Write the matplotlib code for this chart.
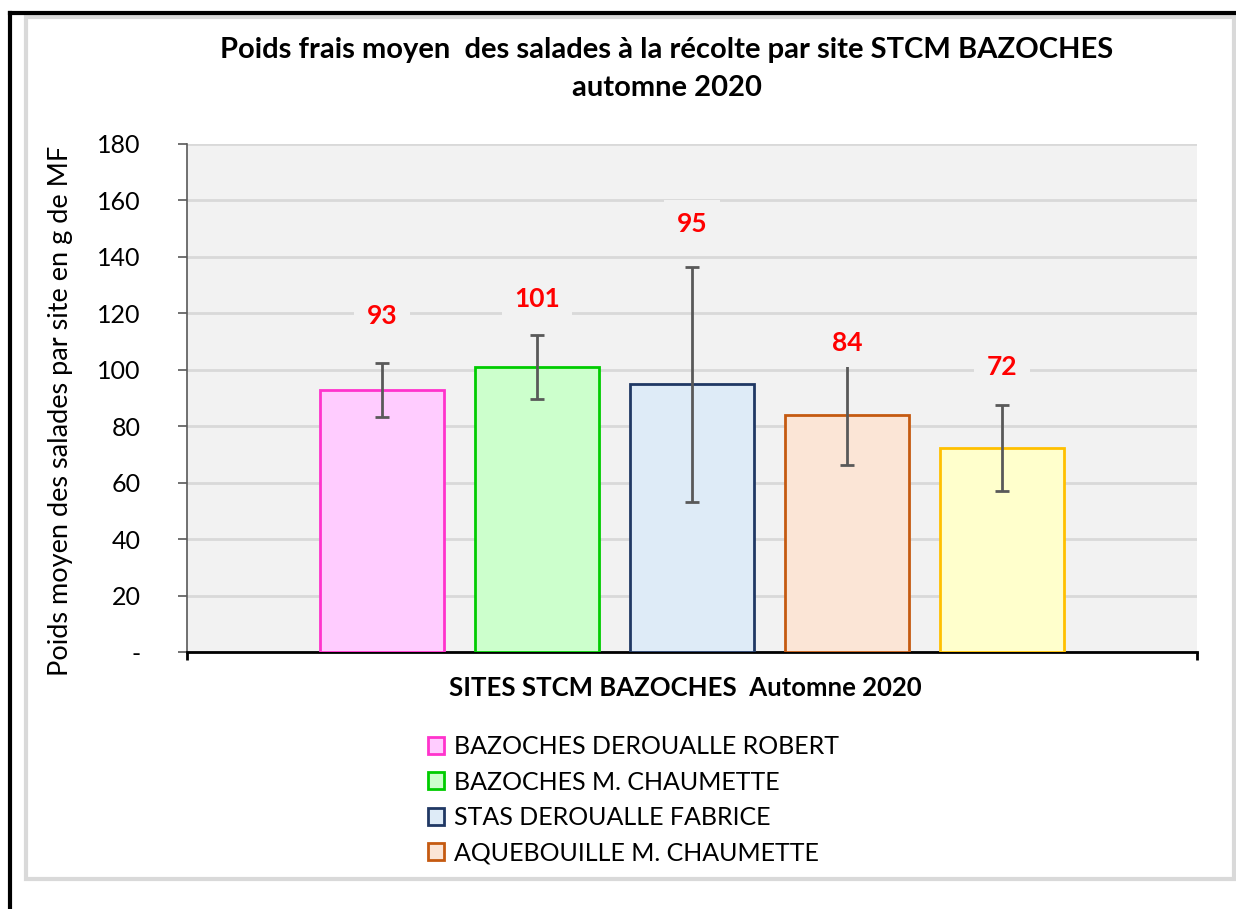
import matplotlib.pyplot as plt
from matplotlib.patches import Rectangle
from matplotlib.lines import Line2D

sites = ['BAZOCHES DEROUALLE ROBERT', 'BAZOCHES M. CHAUMETTE', 'STAS DEROUALLE FABRICE',
         'AQUEBOUILLE M. CHAUMETTE', 'SITE 5']
poids = [92.8, 101.0, 94.8, 84.0, 72.3]
ecart = [9.7, 11.5, 41.6, 17.9, 15.3]
etiquettes = ['93', '101', '95', '84', '72']
hauteur_etiq = [119, 125, 151.5, 109.5, 101]
yticks = [0, 20, 40, 60, 80, 100, 120, 140, 160, 180]
ytick_labels = ['-', '20', '40', '60', '80', '100', '120', '140', '160', '180']

fills = ['#ffccff', '#ccffcc', '#deebf7', '#fbe5d6', '#ffffcc']
edges = ['#ff33cc', '#00cc00', '#203864', '#c55a11', '#ffc000']

plt.rcParams['font.family'] = ['Lato', 'DejaVu Sans']

fig = plt.figure(figsize=(12.36, 9.09), dpi=100)
ax = fig.add_axes([0.1513, 0.2827, 0.8171, 0.5589])
ax.set_facecolor('#f2f2f2')

x = list(range(len(poids)))
bars = ax.bar(x, poids, width=0.8, color=fills, edgecolor=edges, linewidth=2, zorder=3)
ax.errorbar(x, poids, yerr=ecart, fmt='none', ecolor='#595959', elinewidth=2,
            capsize=4.7, capthick=2, zorder=4)

for xi, h, t in zip(x, hauteur_etiq, etiquettes):
    ax.text(xi, h, t, ha='center', va='center', color='#ff0000', fontsize=19,
            fontweight='bold', zorder=5,
            bbox=dict(facecolor='#f2f2f2', edgecolor='none', pad=9))

ax.set_xlim(-1.258, 5.258)
ax.set_ylim(0, 180)
ax.set_yticks(yticks)
ax.set_yticklabels(ytick_labels, fontsize=18)
ax.set_xticks([-1.258, 5.258])
ax.set_xticklabels(['', ''])
ax.tick_params(axis='x', direction='out', length=6, width=2, color='black')
ax.tick_params(axis='y', direction='out', length=6.5, width=1.2, color='#595959', pad=27)
ax.yaxis.grid(True, color='#d9d9d9', linewidth=2, zorder=0)
ax.set_axisbelow(True)
for s in ['top', 'right']:
    ax.spines[s].set_visible(False)
ax.spines['left'].set_color('#595959')
ax.spines['left'].set_linewidth(1.2)
ax.spines['bottom'].set_color('black')
ax.spines['bottom'].set_linewidth(2)

ax.set_ylabel('Poids moyen des salades par site en g de MF', fontsize=19.5, va='center')
ax.yaxis.set_label_coords(-0.1257, 0.474)
ax.set_xlabel('SITES STCM BAZOCHES  Automne 2020', fontsize=18.5, fontweight='bold', va='center')
ax.xaxis.set_label_coords(0.493, -0.0709)

fig.text(0.5397, 1 - 50 / 909, 'Poids frais moyen  des salades à la récolte par site STCM BAZOCHES',
         ha='center', va='center', fontsize=21, fontweight='bold')
fig.text(0.5397, 1 - 88 / 909, 'automne 2020', ha='center', va='center', fontsize=21, fontweight='bold')

leg = fig.legend(bars[:4], sites[:4], loc='upper left', bbox_to_anchor=(428 / 1236, 1 - 735 / 909),
                 frameon=False, fontsize=18, handlelength=0.65, handleheight=0.65,
                 handletextpad=0.4, labelspacing=0.5, borderpad=0, borderaxespad=0)

# cadres
fig.add_artist(Rectangle((26 / 1236, 1 - 879 / 909), 1208 / 1236, 862 / 909,
                         transform=fig.transFigure, fill=False, edgecolor='#d9d9d9', linewidth=3))
fig.add_artist(Line2D([10 / 1236, 1], [1 - 13 / 909, 1 - 13 / 909], color='black', linewidth=3,
                      transform=fig.transFigure))
fig.add_artist(Line2D([10 / 1236, 10 / 1236], [0, 1 - 13 / 909], color='black', linewidth=3,
                      transform=fig.transFigure))

fig.savefig('out.png', dpi=100)
